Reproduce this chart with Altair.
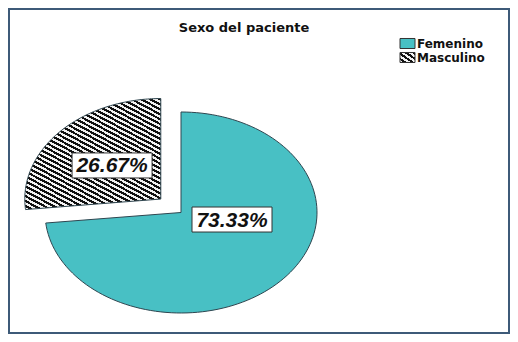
import altair as alt
import pandas as pd

# ---- data ----
categories = ["Femenino", "Masculino"]
percentages = [73.33, 26.67]
label_texts = ["73.33%", "26.67%"]
title_text = "Sexo del paciente"

# ---- layout / style ----
W, H = 502, 326
EXPLODE = [0.0, 0.2]                 # radial offset of each slice (in radius units)
LABEL_X = [0.375, -0.507]            # label anchor (pie-radius units)
LABEL_Y = [-0.07, 0.468]
N = 120                              # arc resolution
TEAL = "#48C0C4"
EDGE = "#2f4650"
FONT = "Liberation Sans"
FONT2 = "DejaVu Sans"

def stripes(periods, x1, y1, x2, y2):
    stops = []
    for k in range(periods):
        a = k / periods
        b = (k + 0.5) / periods
        c = (k + 1) / periods
        stops += [
            {"offset": a, "color": "#111111"},
            {"offset": b, "color": "#111111"},
            {"offset": b, "color": "#f2f2f2"},
            {"offset": c, "color": "#f2f2f2"},
        ]
    return {"gradient": "linear", "x1": x1, "y1": y1, "x2": x2, "y2": y2, "stops": stops}

HATCH = stripes(37, 1, 0, 0.25, 1.16)
HATCH_SWATCH = stripes(4, 1, 0, 0, 1)

df = pd.DataFrame({
    "category": categories,
    "value": percentages,
    "label": label_texts,
    "idx": list(range(len(categories))),
    "explode": EXPLODE,
    "lx": LABEL_X,
    "ly": LABEL_Y,
})

xs = alt.Scale(domain=[-1.2721, 2.4191], nice=False, zero=False)
ys = alt.Scale(domain=[-1.209, 2.0348], nice=False, zero=False)

base = alt.Chart(df)

slices = (
    base.transform_window(cum="sum(value)", sort=[alt.SortField("idx")])
    .transform_joinaggregate(total="sum(value)")
    .transform_calculate(
        a0="2*PI*(datum.cum - datum.value)/datum.total",
        a1="2*PI*datum.cum/datum.total",
    )
    .transform_calculate(mid="(datum.a0 + datum.a1)/2", step=f"sequence(0, {N + 2})")
    .transform_flatten(["step"])
    .transform_calculate(
        edge=f"datum.step == 0 || datum.step == {N + 1}",
        ang=f"datum.a0 + (datum.a1 - datum.a0) * (datum.step - 1) / {N - 1}",
    )
    .transform_calculate(
        px="datum.explode*sin(datum.mid) + (datum.edge ? 0 : sin(datum.ang))",
        py="datum.explode*cos(datum.mid) + (datum.edge ? 0 : cos(datum.ang))",
    )
)

enc = dict(
    x=alt.X("px:Q", scale=xs, axis=None),
    y=alt.Y("py:Q", scale=ys, axis=None),
    order=alt.Order("step:Q"),
)

fem = slices.transform_filter(alt.datum.category == "Femenino").mark_line(
    fill=TEAL, stroke=EDGE, strokeWidth=1, interpolate="linear"
).encode(**enc)

mas = slices.transform_filter(alt.datum.category == "Masculino").mark_line(
    fill=HATCH, stroke=EDGE, strokeWidth=1, interpolate="linear"
).encode(**enc)

BOX = "M-1,-0.3125L1,-0.3125L1,0.3125L-1,0.3125Z"
boxes = base.mark_point(
    shape=BOX, size=6400, filled=True, fill="white", stroke="#333333",
    strokeWidth=1, opacity=1
).encode(x=alt.X("lx:Q", scale=xs, axis=None), y=alt.Y("ly:Q", scale=ys, axis=None))

labels = base.mark_text(
    font=FONT, fontSize=21, fontStyle="italic", fontWeight="bold", color="#111111",
    align="center", baseline="middle", dy=1
).encode(x=alt.X("lx:Q", scale=xs, axis=None), y=alt.Y("ly:Q", scale=ys, axis=None),
         text="label:N")

title = alt.Chart(pd.DataFrame({"t": [title_text]})).mark_text(
    font=FONT2, fontSize=13, fontWeight="bold", color="#111111", align="center", baseline="middle"
).encode(x=alt.value(236), y=alt.value(20), text="t:N")

SW = "M-1,-0.667L1,-0.667L1,0.667L-1,0.667Z"
legend_layers = []
for i, cat in enumerate(categories):
    yy = 35.5 + 14 * i
    sw = base.transform_filter(alt.datum.category == cat).mark_point(
        shape=SW, size=225, filled=True, fill=(TEAL if i == 0 else HATCH_SWATCH),
        stroke="#333333", strokeWidth=1, opacity=1
    ).encode(x=alt.value(399.5), y=alt.value(yy))
    tx = base.transform_filter(alt.datum.category == cat).mark_text(
        font=FONT2, fontSize=12, fontWeight="bold", color="#111111", align="left",
        baseline="middle"
    ).encode(x=alt.value(409), y=alt.value(yy + 0.5), text="category:N")
    legend_layers += [sw, tx]

chart = alt.layer(fem, mas, boxes, labels, title, *legend_layers).properties(
    width=W, height=H, padding=0, autosize=alt.AutoSizeParams(type="none"),
    background="white"
).configure_view(stroke="#3d5a78", strokeWidth=4)

chart.save("out.html", embed_options={"renderer": "svg", "actions": False})
